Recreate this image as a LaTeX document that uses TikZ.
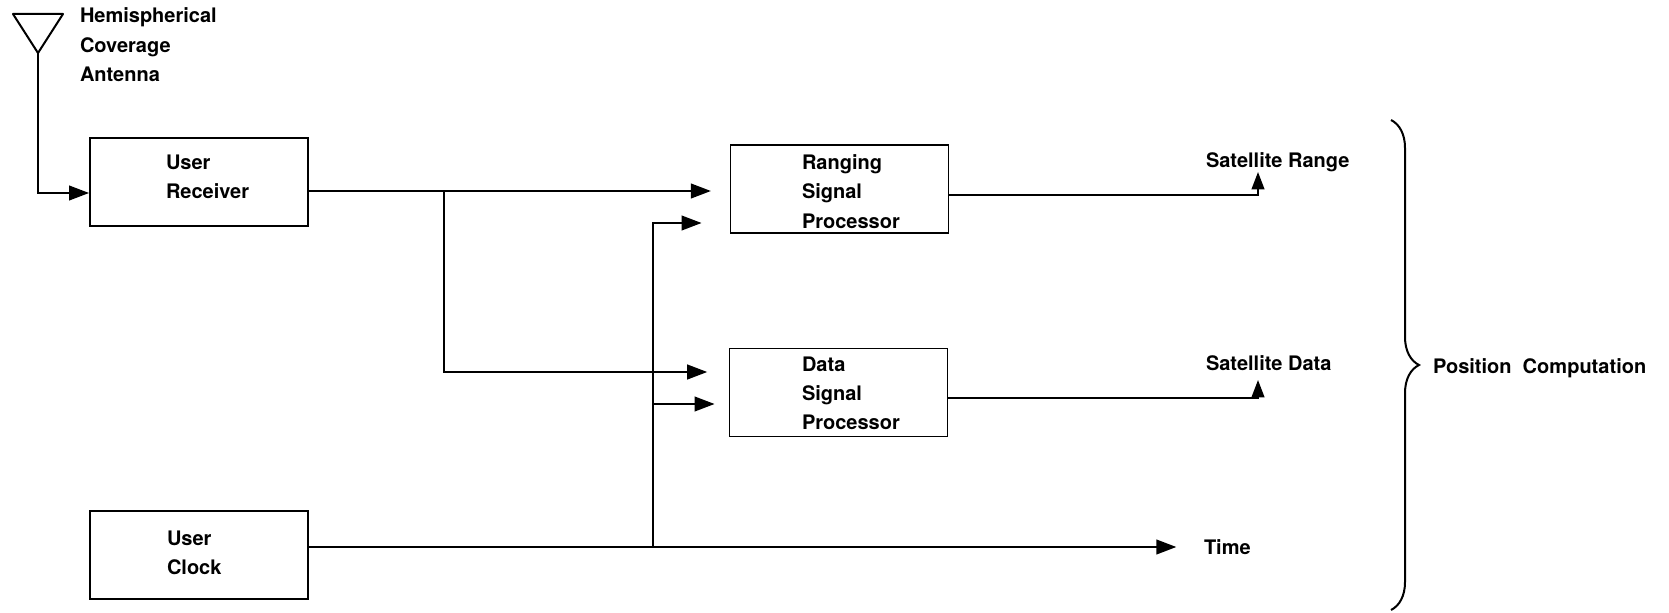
\documentclass[tikz,border=0pt]{standalone}
\usepackage{fontspec}
\setmainfont{TeX Gyre Heros}
\usetikzlibrary{arrows.meta,calc,decorations.pathreplacing}

\tikzset{every picture/.style={line width=1.5pt}}
\tikzset{
  block/.style={draw, line width=1.4pt, minimum width=163.5pt, minimum height=66pt, inner sep=0pt},
  lbl/.style={inner sep=0pt, align=left, font=\bfseries\fontsize{15}{22}\selectfont},
  flow/.style={-{Triangle[length=15pt,width=11pt]}},
  upflow/.style={-{Triangle[length=13pt,width=9.5pt]}},
}

\begin{document}
\begin{tikzpicture}[x=0.75pt,y=0.75pt,yscale=-1,xscale=1]
\useasboundingbox (0,0) rectangle (1669,613); %set diagram size to 1669 x 613

%Shape: Triangle [antenna]
\draw [line join=round] (13,14) -- (63,14) -- (38,53) -- cycle ;
\coordinate (ant) at (38,53);

%Shape: Rectangle [blocks]
\node[block] (recv) at (199,182) {};
\node[block] (rang) at (839.5,189) {};
\node[block] (data) at (838.5,392.5) {};
\node[block] (clock) at (199,555) {};

% Text Node
\node[lbl, anchor=north west] (antlbl) at (79,7) {Hemispherical\\Coverage\\Antenna};
% Text Node
\node[lbl, anchor=north west] (recvlbl) at (165,153.6) {User\\Receiver};
% Text Node
\node[lbl, anchor=north west] (ranglbl) at (801,153.6) {Ranging\\Signal\\Processor};
% Text Node
\node[lbl, anchor=north west] (datalbl) at (801,355.6) {Data\\Signal\\Processor};
% Text Node
\node[lbl, anchor=north west] (clocklbl) at (166,530) {User\\Clock};
% Text Node
\node[lbl, anchor=base west] (satr) at (1205,167) {Satellite Range};
% Text Node
\node[lbl, anchor=base west] (satd) at (1205,370) {Satellite Data};
% Text Node
\node[lbl, anchor=base west] (time) at (1203,554) {Time};
% Text Node
\node[lbl, anchor=base west] (pos) at (1432,373) {Position\ \ Computation};

%Connectors
\coordinate (recvout) at ($(recv.east)+(0,9)$);
\coordinate (split) at (444,191);
\coordinate (clkout) at ($(clock.east)+(0,-8)$);
\coordinate (ctap) at (653,547);
\coordinate (datain) at ($(data.west)+(0,11.5)$);
\coordinate (rtip) at (1258,172);
\coordinate (dtip) at (1258,380);

\draw [flow] (ant) |- ($(recv.west)+(0,11)$);
\draw [flow, shorten >=14pt] (recvout) -- (recvout -| rang.west);
\draw [flow, shorten >=16pt] (split) |- ($(data.west)+(0,-20.5)$);
\draw [flow, shorten >=20pt] (clkout) -- (clkout -| time.west);
\draw [flow, shorten >=21pt] (ctap) |- ($(rang.west)+(0,34)$);
\draw [flow, shorten >=10.5pt] (ctap |- datain) -- (datain);
\draw [upflow] ($(rang.east)+(0,6)$) -| (rtip);
\draw [upflow] ($(data.east)+(0,5.5)$) -| (dtip);

%Curve Lines [brace]
\draw [decorate, decoration={brace, amplitude=21pt}] (1391,120) -- (1391,610);

\end{tikzpicture}
\end{document}
